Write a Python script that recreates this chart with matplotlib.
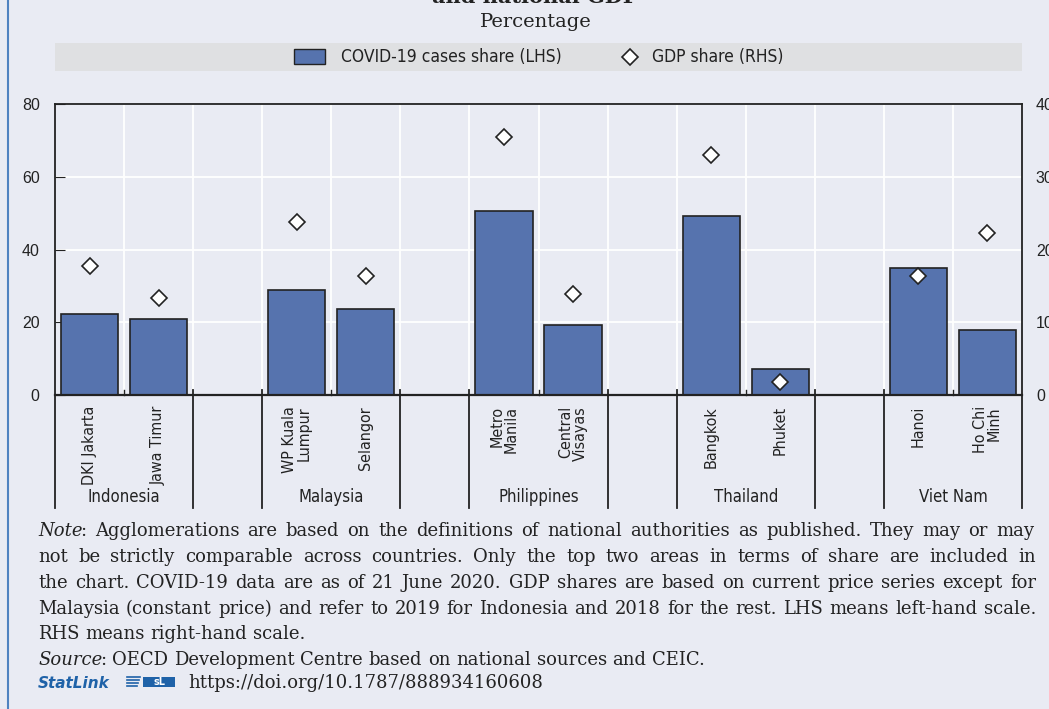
import matplotlib.pyplot as plt
import matplotlib.transforms as mtransforms
from matplotlib.lines import Line2D
from matplotlib.patches import Rectangle
from matplotlib import font_manager

# data
areas = ['DKI Jakarta', 'Jawa Timur', 'WP Kuala\nLumpur', 'Selangor',
         'Metro\nManila', 'Central\nVisayas', 'Bangkok', 'Phuket',
         'Hanoi', 'Ho Chi\nMinh']
countries = ['Indonesia', 'Malaysia', 'Philippines', 'Thailand', 'Viet Nam']
covid_share = [22.2, 20.8, 28.8, 23.6, 50.5, 19.2, 49.2, 7.1, 34.8, 17.8]
gdp_share = [17.8, 13.4, 23.8, 16.3, 35.4, 13.9, 33.0, 1.8, 16.3, 22.2]

note_lines = [
    "Note: Agglomerations are based on the definitions of national authorities as published. They may or may",
    "not be strictly comparable across countries. Only the top two areas in terms of share are included in",
    "the chart. COVID-19 data are as of 21 June 2020. GDP shares are based on current price series except for",
    "Malaysia (constant price) and refer to 2019 for Indonesia and 2018 for the rest. LHS means left-hand scale.",
    "RHS means right-hand scale.",
]
source_line = "Source: OECD Development Centre based on national sources and CEIC."
statlink_url = "https://doi.org/10.1787/888934160608"

# look for a narrow sans font
narrow_file = None
for pref in ['LiberationSansNarrow-Regular', 'DejaVuSansCondensed.ttf', 'NotoSans-Condensed',
             'Roboto_Condensed', 'RobotoCondensed-Regular']:
    for f in font_manager.fontManager.ttflist:
        if pref in f.fname:
            narrow_file = f.fname
            break
    if narrow_file:
        break
if narrow_file:
    narrow = font_manager.FontProperties(fname=narrow_file)
else:
    narrow = font_manager.FontProperties(family='DejaVu Sans', stretch='condensed')


def nfont(size):
    fp = narrow.copy()
    fp.set_size(size)
    return fp


serif = ['DejaVu Serif']
bg = '#E9EBF3'
bar_color = '#5673AE'
dark = '#222222'

W, H = 1049, 709
fig = plt.figure(figsize=(W / 100, H / 100), dpi=100, facecolor=bg)

# layout: two bars per country, one empty slot between countries
pos = [(i // 2) * 3 + i % 2 for i in range(len(areas))]
n_slots = pos[-1] + 1

ax = fig.add_axes([55 / W, 1 - 395 / H, (1022 - 55) / W, (395 - 104) / H])
ax.set_facecolor(bg)
ax.bar(pos, covid_share, width=0.83, color=bar_color, edgecolor=dark, linewidth=1.2, zorder=2)
ax.set_xlim(-0.5, n_slots - 0.5)
ax.set_ylim(0, 80)
ax.set_yticks([0, 20, 40, 60, 80])
ax.set_xticks([])
ax.set_xticks([k + 0.5 for k in range(n_slots - 1)], minor=True)
ax.grid(which='minor', axis='x', color='white', linewidth=1.3)
ax.grid(which='major', axis='y', color='white', linewidth=1.3)
ax.set_axisbelow(True)
ax.tick_params(axis='x', which='both', length=0)
ax.tick_params(axis='y', direction='in', length=7, color=dark, pad=11,
               labelsize=11.5, labelcolor=dark)
for lab in ax.get_yticklabels():
    lab.set_family('Liberation Sans')
for s in ax.spines.values():
    s.set_color(dark)
    s.set_linewidth(1.3)
ax.spines['bottom'].set_linewidth(1.6)

ax2 = ax.twinx()
ax2.set_ylim(0, 40)
ax2.set_yticks([0, 10, 20, 30, 40])
ax2.tick_params(axis='y', length=0, pad=10, labelsize=11.5, labelcolor=dark)
for lab in ax2.get_yticklabels():
    lab.set_family('Liberation Sans')
for s in ax2.spines.values():
    s.set_visible(False)
ax2.plot(pos, gdp_share, linestyle='none', marker='D', markersize=8,
         markerfacecolor='white', markeredgecolor=dark, markeredgewidth=1.2, zorder=3)

# category axis below the plot
trans = mtransforms.blended_transform_factory(ax.transData, ax.transAxes)
axis_h = 395 - 104
low = -(508 - 395) / axis_h
up = 5 / axis_h
for i, name in enumerate(areas):
    ax.text(pos[i], -11 / axis_h, name, transform=trans, rotation=90,
            ha='center', va='top', multialignment='right',
            fontproperties=nfont(11.5), color=dark, linespacing=0.9)
for g, c in enumerate(countries):
    ax.text(g * 3 + 0.5, -(497 - 395) / axis_h, c, transform=trans,
            ha='center', va='center', fontproperties=nfont(12), color=dark)

bounds_group = []
for g in range(len(countries) - 1):
    bounds_group += [g * 3 + 1.5, g * 3 + 2.5]
for x in bounds_group:
    ax.add_line(Line2D([x, x], [up, low], transform=trans, color=dark,
                       linewidth=1.3, clip_on=False))
for x in [-0.5, n_slots - 0.5]:
    ax.add_line(Line2D([x, x], [0, low], transform=trans, color=dark,
                       linewidth=1.3, clip_on=False))
for g in range(len(countries)):
    x = g * 3 + 0.5
    ax.add_line(Line2D([x, x], [0, up], transform=trans, color=dark,
                       linewidth=1.0, clip_on=False))

# title (cut off at top), subtitle and legend band
fig.text(535 / W, 1 - 3 / H, 'and national GDP', ha='center', va='baseline',
         fontsize=15, fontweight='bold', family=serif, color=dark)
fig.text(536 / W, 1 - 22 / H, 'Percentage', ha='center', va='center',
         fontsize=14, family=serif, color=dark)
fig.add_artist(Rectangle((55 / W, 1 - 71 / H), (1022 - 55) / W, 28 / H,
                         transform=fig.transFigure, facecolor='#DFE0E2',
                         edgecolor='none'))
fig.add_artist(Rectangle((294 / W, 1 - 64 / H), 31 / W, 15 / H,
                         transform=fig.transFigure, facecolor=bar_color,
                         edgecolor=dark, linewidth=1.0))
fig.text(341 / W, 1 - 57 / H, 'COVID-19 cases share (LHS)', ha='left', va='center',
         fontproperties=nfont(12.5), color=dark)
fig.add_artist(Line2D([630 / W], [1 - 57 / H], transform=fig.transFigure,
                      marker='D', markersize=8, markerfacecolor='white',
                      markeredgecolor=dark, markeredgewidth=1.2))
fig.text(652 / W, 1 - 57 / H, 'GDP share (RHS)', ha='left', va='center',
         fontproperties=nfont(12.5), color=dark)

# left border
fig.add_artist(Line2D([8 / W, 8 / W], [0, 1], transform=fig.transFigure,
                      color='#4F82C0', linewidth=1.5))

# notes, justified like the original
fig.canvas.draw()
renderer = fig.canvas.get_renderer()
note_kw = dict(fontsize=13, family=serif, color=dark)


def text_width(s, **kw):
    t = fig.text(0, 0, s, **kw)
    w = t.get_window_extent(renderer).width
    t.remove()
    return w


space_w = text_width('a a', **note_kw) - text_width('aa', **note_kw)


def place_line(y_px, line, justify, x0=38, x1=1036, italic_first=False):
    words = line.split(' ')
    pieces = []
    for k, w in enumerate(words):
        if k == 0 and italic_first:
            pieces.append([(w[:-1], 'italic'), (':', 'normal')])
        else:
            pieces.append([(w, 'normal')])
    widths = [[text_width(t, style=st, **note_kw) for t, st in p] for p in pieces]
    total = sum(sum(w) for w in widths)
    gap = (x1 - x0 - total) / (len(words) - 1) if justify else space_w
    x = x0
    for p, ws in zip(pieces, widths):
        for (t, st), w in zip(p, ws):
            fig.text(x / W, 1 - y_px / H, t, style=st, ha='left', va='baseline', **note_kw)
            x += w - (2 if st == 'italic' else 0)
        x += gap


ys = [536, 562, 588, 614, 639]
for k, line in enumerate(note_lines):
    place_line(ys[k], line, justify=k < len(note_lines) - 1, italic_first=(k == 0))
place_line(665, source_line, justify=False, italic_first=True)

fig.text(38 / W, 1 - 688 / H, 'StatLink', ha='left', va='baseline', fontsize=11,
         style='italic', fontweight='bold', family='DejaVu Sans', color='#1F62A8')
# small StatLink logo
for k in range(4):
    fig.add_artist(Line2D([127 / W, (140 - k) / W], [1 - (677 + 3 * k) / H] * 2,
                          transform=fig.transFigure, color='#1F62A8', linewidth=1.2))
fig.add_artist(Rectangle((143 / W, 1 - 687 / H), 32 / W, 10 / H,
                         transform=fig.transFigure, facecolor='#1F62A8', edgecolor='none'))
fig.text(159 / W, 1 - 682 / H, 'sL', ha='center', va='center', fontsize=7,
         fontweight='bold', color='white', family='DejaVu Sans')
fig.text(188 / W, 1 - 688 / H, statlink_url, ha='left', va='baseline', **note_kw)

fig.savefig('out.png', dpi=100, facecolor=bg)
